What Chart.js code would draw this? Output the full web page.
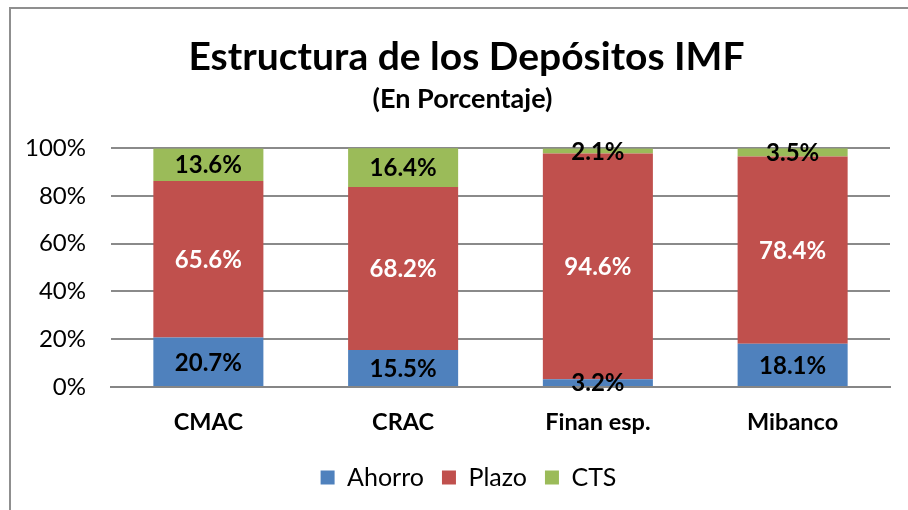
<!DOCTYPE html>
<html>
<head>
<meta charset="utf-8">
<script src="https://cdn.jsdelivr.net/npm/chart.js@4"></script>
<style>
html,body{margin:0;padding:0;background:#fff;}
#wrap{position:relative;width:908px;height:510px;}
</style>
</head>
<body>
<div id="wrap"><canvas id="c" width="908" height="510"></canvas></div>
<script>
const categories = ['CMAC', 'CRAC', 'Finan esp.', 'Mibanco'];
const ahorro = [20.7, 15.5, 3.2, 18.1];
const plazo = [65.6, 68.2, 94.6, 78.4];
const cts = [13.6, 16.4, 2.1, 3.5];
const yTicks = [0, 20, 40, 60, 80, 100];
const seriesNames = ['Ahorro', 'Plazo', 'CTS'];
const seriesColors = ['#4F81BD', '#C0504D', '#9BBB59'];
const labelColors = ['#000000', '#FFFFFF', '#000000'];

const FONT = 'Lato, "Noto Sans", sans-serif';

const frame = {
  id: 'frame',
  beforeDraw(chart) {
    const ctx = chart.ctx;
    ctx.save();
    ctx.fillStyle = '#fff';
    ctx.fillRect(0, 0, chart.width, chart.height);
    ctx.strokeStyle = '#8f8f8f';
    ctx.lineWidth = 2;
    ctx.strokeRect(10, 8, chart.width + 20, chart.height + 20);
    ctx.restore();
  }
};

const shiftBoxes = {
  id: 'shiftBoxes',
  afterLayout(chart) {
    chart.boxes.forEach(b => {
      let dx = 0, dy = 0;
      if (b === chart.titleBlock) dx = 9;
      else if (b === chart.legend) { dx = 11; dy = 0; }
      else if (b.options && b.options.text === '(En Porcentaje)') dx = 5;
      if (dx || dy) { b.left += dx; b.right += dx; b.top += dy; b.bottom += dy; }
    });
  }
};

const dataLabels = {
  id: 'dataLabels',
  afterDatasetsDraw(chart) {
    const ctx = chart.ctx;
    ctx.save();
    ctx.font = 'bold 24px ' + FONT;
    ctx.textAlign = 'center';
    ctx.textBaseline = 'middle';
    chart.data.datasets.forEach((ds, i) => {
      const meta = chart.getDatasetMeta(i);
      meta.data.forEach((el, j) => {
        const y = (el.y + el.base) / 2;
        ctx.fillStyle = labelColors[i];
        ctx.fillText(ds.data[j].toFixed(1) + '%', el.x, y + 1);
      });
    });
    ctx.restore();
  }
};

new Chart(document.getElementById('c'), {
  type: 'bar',
  data: {
    labels: categories,
    datasets: [
      { label: seriesNames[0], data: ahorro, backgroundColor: seriesColors[0] },
      { label: seriesNames[1], data: plazo, backgroundColor: seriesColors[1] },
      { label: seriesNames[2], data: cts, backgroundColor: seriesColors[2] }
    ]
  },
  options: {
    responsive: false,
    animation: false,
    layout: { padding: { left: 25, right: 18, top: 10, bottom: 10 } },
    datasets: { bar: { barPercentage: 0.565, categoryPercentage: 1 } },
    plugins: {
      title: {
        display: true,
        text: 'Estructura de los Depósitos IMF',
        color: '#000',
        font: { family: FONT, size: 39, weight: 'bold' },
        padding: { top: 24, bottom: 0 }
      },
      subtitle: {
        display: true,
        text: '(En Porcentaje)',
        color: '#000',
        font: { family: FONT, size: 27, weight: 'bold' },
        padding: { top: 2, bottom: 33 }
      },
      legend: {
        position: 'bottom',
        labels: {
          color: '#000',
          font: { family: FONT, size: 25 },
          boxWidth: 14,
          boxHeight: 14,
          padding: 18
        }
      },
      tooltip: { enabled: false }
    },
    scales: {
      x: {
        stacked: true,
        afterFit(scale) { scale.height = 60; },
        grid: { display: false, drawTicks: false },
        border: { display: true, color: '#868686', width: 2 },
        ticks: { color: '#000', font: { family: FONT, size: 23.5, weight: 'bold' }, padding: 21 }
      },
      y: {
        stacked: true,
        min: 0,
        max: 100,
        afterFit(scale) { scale.width = 86; },
        afterBuildTicks(scale) { scale.ticks = yTicks.map(v => ({ value: v })); },
        grid: { color: '#8a8a8a', lineWidth: 2, drawTicks: false },
        border: { display: false },
        ticks: {
          color: '#000',
          font: { family: FONT, size: 24 },
          padding: 25,
          callback: v => v + '%'
        }
      }
    }
  },
  plugins: [frame, shiftBoxes, dataLabels]
});
</script>
</body>
</html>
